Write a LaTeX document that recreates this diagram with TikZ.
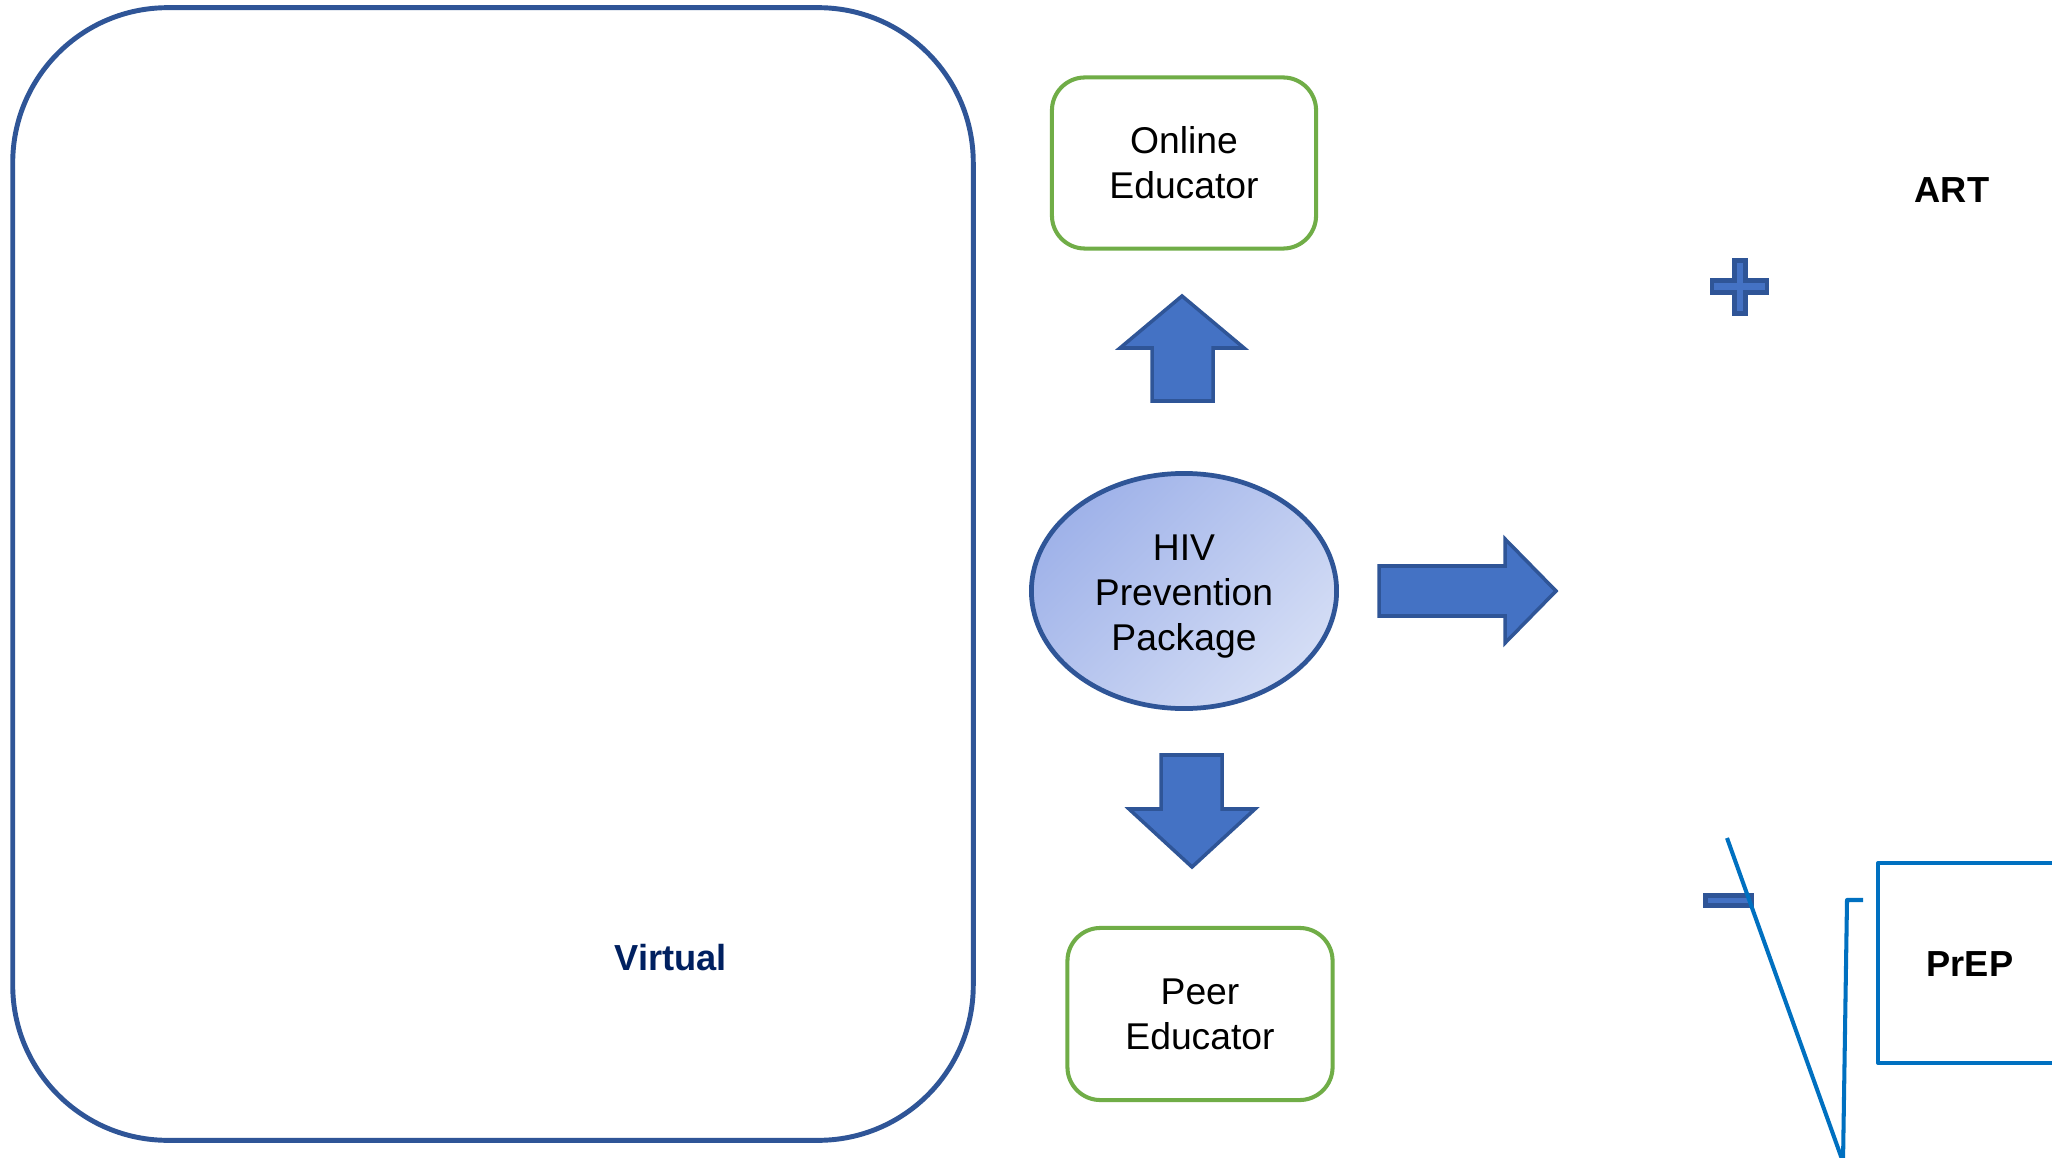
\documentclass[tikz,border=0pt]{standalone}
\usepackage{fontspec}
\setmainfont{Liberation Sans}
\usepackage{tikz}
\usetikzlibrary{positioning, shapes.geometric, calc}
\usepackage{xcolor}
\definecolor{frameblue}{HTML}{2F5597}
\definecolor{arrowblue}{HTML}{4472C4}
\definecolor{edugreen}{HTML}{70AD47}
\definecolor{navytext}{HTML}{002060}
\definecolor{lineblue}{HTML}{0070C0}
\definecolor{shadedark}{HTML}{9FB2E9}
\definecolor{shadelight}{HTML}{D4DDF5}
\tikzset{
    edubox/.style={draw=edugreen, line width=1.15pt, rounded corners=0.33cm,
        align=center, inner sep=0pt},
    blockarrow/.style={draw=frameblue, fill=arrowblue, line width=1pt, line join=miter}
}

\begin{document}
\begin{tikzpicture}[
    x=0.01cm, y=-0.01cm,
    normaltext/.style={font=\fontsize{10.6pt}{12.8pt}\selectfont},
    boldtext/.style={font=\fontsize{10.3pt}{12.4pt}\selectfont\bfseries, inner sep=0pt},
    sign/.style={draw=frameblue, fill=arrowblue, line width=1.3pt},
    stroke/.style={draw=lineblue, line width=1.15pt}
]
\useasboundingbox[fill=white] (0,0) rectangle (2052,1158);

% Virtual frame
\node[draw=frameblue, line width=1.4pt, rounded corners=1.55cm,
      minimum width=9.60cm, minimum height=11.32cm] (virtual) at (493,574) {};
\node[boldtext, text=navytext] (virtuallbl) at (671,958) {Virtual};

% Package in the middle
\node[ellipse, draw=frameblue, line width=1.35pt, inner sep=0pt,
      left color=shadedark, right color=shadelight, shading angle=45,
      minimum width=3.05cm, minimum height=2.35cm] (package) at (1184,591) {};
\node[normaltext, align=center] (pkglbl) at (1184,597) {HIV\\Prevention\\Package};

% Educators above and below
\node[edubox, normaltext, minimum width=2.64cm, minimum height=1.71cm]
      (online) at (1184,163) {Online\\Educator};
\node[edubox, normaltext, minimum width=2.65cm, minimum height=1.72cm]
      (peer) at (1200,1014) {Peer\\Educator};

% Block arrows
\draw[blockarrow] (1152,401) -- (1152,348) -- (1120,348) -- (1182,296)
    -- (1244,348) -- (1213,348) -- (1213,401) -- cycle;
\draw[blockarrow] (1161,755) -- (1222,755) -- (1222,809) -- (1255,809)
    -- (1192,867) -- (1129,809) -- (1161,809) -- cycle;
\draw[blockarrow] (1379,566) -- (1505,566) -- (1505,539) -- (1556,591)
    -- (1505,643) -- (1505,616) -- (1379,616) -- cycle;

% ART side
\node[boldtext] (art) at (1952,190) {ART};
\draw[sign] (1712,280.5) -- (1734.5,280.5) -- (1734.5,260.5) -- (1745.5,260.5)
    -- (1745.5,280.5) -- (1767,280.5) -- (1767,292.5) -- (1745.5,292.5)
    -- (1745.5,313.5) -- (1734.5,313.5) -- (1734.5,292.5) -- (1712,292.5) -- cycle;

% PrEP side
\draw[sign] (1705.5,895.5) rectangle (1751.5,905.5);
\draw[stroke, line join=round] (1727,838) -- (1843,1162) -- (1847,900) -- (1863,900);
\draw[stroke, line join=round] (2070,863) -- (1878,863) -- (1878,1063) -- (2070,1063);
\node[boldtext] (prep) at (1970,964) {PrEP};

\end{tikzpicture}
\end{document}
